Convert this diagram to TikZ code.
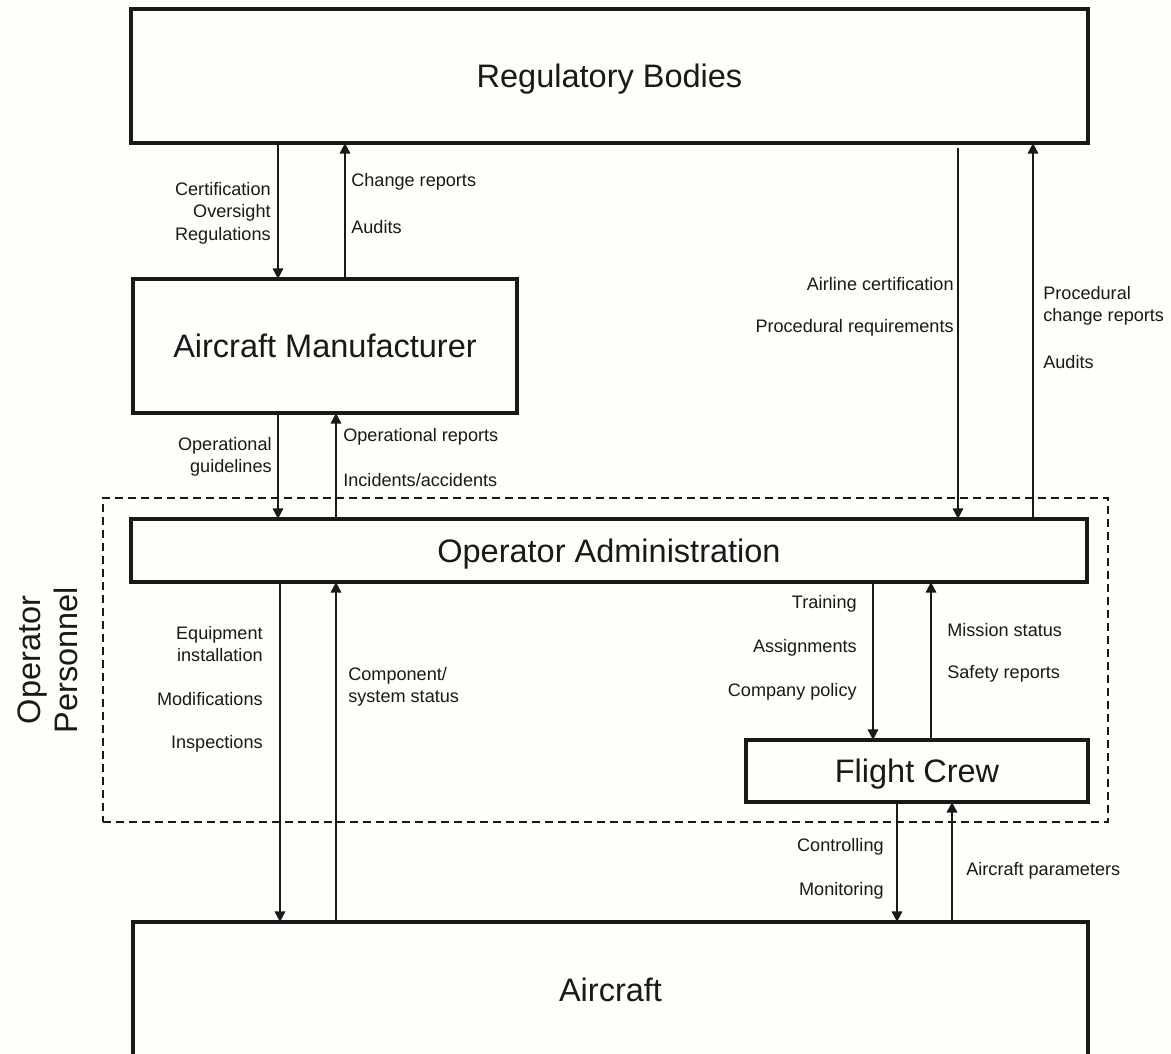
\documentclass[tikz,border=0pt]{standalone}
\usepackage{fontspec}
\setmainfont{Liberation Sans}
\usetikzlibrary{arrows.meta}
\definecolor{paper}{RGB}{254,254,250}
\definecolor{ink}{RGB}{25,25,25}
\begin{document}
\begin{tikzpicture}[x=0.02cm,y=-0.02cm,
  box/.style={draw=ink, line width=1.9pt, inner sep=0pt, outer sep=0pt,
    text=ink, text depth=0pt, font=\fontsize{18.5}{22}\selectfont},
  group/.style={draw=ink, line width=1.2pt, dash pattern=on 4.6pt off 2.8pt,
    inner sep=0pt, outer sep=0pt},
  lbl/.style={text=ink, inner sep=0pt, font=\fontsize{10.3}{12.8}\selectfont},
  lblr/.style={lbl, anchor=east, align=right},
  lbll/.style={lbl, anchor=west, align=left},
  flow/.style={draw=ink, line width=1.4pt, -{Triangle[length=6pt,width=5.8pt]}},
]
% page and background
\clip (0,0) rectangle (1171,1054);
\fill[paper] (0,0) rectangle (1171,1054);

% operator personnel grouping
\node[group, minimum width=1005*0.02cm, minimum height=324*0.02cm] (grp) at (605.5,660) {};
\node[text=ink, rotate=90, align=center, inner sep=0pt,
  font=\fontsize{18.5}{21}\selectfont] (grplabel) at (48,660) {Operator\\Personnel};

% main blocks
\node[box, minimum width=957*0.02cm, minimum height=134*0.02cm] (reg) at (609.5,76) {Regulatory Bodies};
\node[box, minimum width=384*0.02cm, minimum height=134*0.02cm] (mfr) at (325,346) {Aircraft Manufacturer};
\node[box, minimum width=956*0.02cm, minimum height=63*0.02cm] (opa) at (609,550.5) {Operator Administration};
\node[box, minimum width=342*0.02cm, minimum height=62*0.02cm] (fc) at (917,771) {Flight Crew};
\node[box, minimum width=955*0.02cm, minimum height=136*0.02cm] (ac) at (610.5,990) {Aircraft};

% connector columns
\coordinate (c278) at (278,0);
\coordinate (c280) at (280,0);
\coordinate (c336) at (336,0);
\coordinate (c345) at (345,0);
\coordinate (c873) at (873,0);
\coordinate (c897) at (897,0);
\coordinate (c931) at (931,0);
\coordinate (c952) at (952,0);
\coordinate (c958) at (958,0);
\coordinate (c1033) at (1033,0);

% regulatory bodies <-> manufacturer
\draw[flow] (reg.south -| c278) -- (mfr.north -| c278);
\draw[flow] (mfr.north -| c345) -- (reg.south -| c345);
\node[lblr] (l1) at (271,213) {Certification\\Oversight\\Regulations};
\node[lbll] (l2) at (351,182) {Change reports};
\node[lbll] (l3) at (351,227) {Audits};

% regulatory bodies <-> operator administration
\draw[flow, shorten <=3pt] (reg.south -| c958) -- (opa.north -| c958);
\draw[flow] (opa.north -| c1033) -- (reg.south -| c1033);
\node[lblr] (l4) at (954,284) {Airline certification};
\node[lblr] (l5) at (954,328) {Procedural requirements};
\node[lbll] (l6) at (1043,306) {Procedural\\change reports};
\node[lbll] (l7) at (1043,362) {Audits};

% manufacturer <-> operator administration
\draw[flow] (mfr.south -| c278) -- (opa.north -| c278);
\draw[flow] (opa.north -| c336) -- (mfr.south -| c336);
\node[lblr] (l8) at (272,457) {Operational\\guidelines};
\node[lbll] (l9) at (343,437) {Operational reports};
\node[lbll] (l10) at (343,480) {Incidents/accidents};

% operator administration <-> aircraft
\draw[flow] (opa.south -| c280) -- (ac.north -| c280);
\draw[flow] (ac.north -| c336) -- (opa.south -| c336);
\node[lblr] (l11) at (263,644) {Equipment\\installation};
\node[lblr] (l12) at (263,699) {Modifications};
\node[lblr] (l13) at (263,744) {Inspections};
\node[lbll] (l14) at (348,687) {Component/\\system status};

% operator administration <-> flight crew
\draw[flow] (opa.south -| c873) -- (fc.north -| c873);
\draw[flow] (fc.north -| c931) -- (opa.south -| c931);
\node[lblr] (l15) at (857,604) {Training};
\node[lblr] (l16) at (857,648) {Assignments};
\node[lblr] (l17) at (857,692) {Company policy};
\node[lbll] (l18) at (947,630) {Mission status};
\node[lbll] (l19) at (947,674) {Safety reports};

% flight crew <-> aircraft
\draw[flow] (fc.south -| c897) -- (ac.north -| c897);
\draw[flow] (ac.north -| c952) -- (fc.south -| c952);
\node[lblr] (l20) at (884,847) {Controlling};
\node[lblr] (l21) at (884,891) {Monitoring};
\node[lbll] (l22) at (966,871) {Aircraft parameters};
\end{tikzpicture}
\end{document}
